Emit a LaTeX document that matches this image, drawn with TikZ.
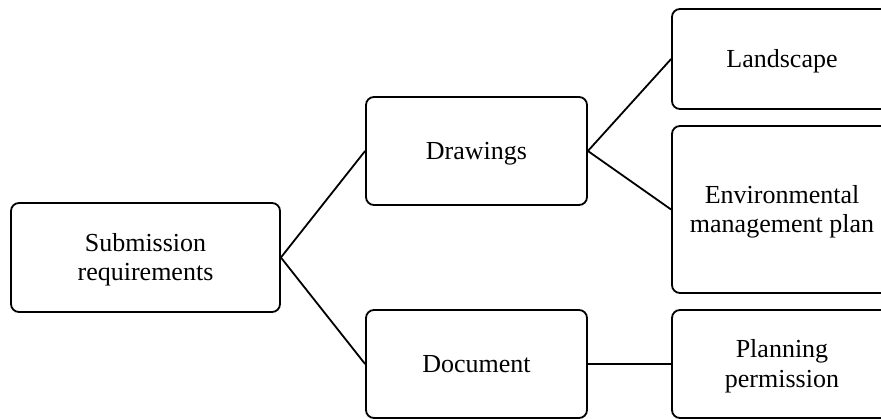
\documentclass[tikz,border=0pt]{standalone}
\usepackage{fontspec}
\setmainfont{Liberation Serif}
\newcommand\mystrut{\rule[-5.5pt]{0pt}{28.2pt}}
\begin{document}
\begin{tikzpicture}[x=1pt,y=-1pt,
  box/.style={draw=black, line width=1.8pt, rounded corners=8pt, align=center, inner sep=0pt,
    font=\fontsize{26}{28}\selectfont},
  conn/.style={draw=black, line width=1.8pt}]
\useasboundingbox (0,0) rectangle (881,419);
\clip (0,0) rectangle (881,419);
\node[box, minimum width=269pt, minimum height=109pt] (sub) at (145.5,257.5) {\mystrut Submission\\\mystrut requirements};
\node[box, minimum width=221pt, minimum height=108pt] (drw) at (476.5,151) {\mystrut Drawings};
\node[box, minimum width=221pt, minimum height=108pt] (doc) at (476.5,364) {\mystrut Document};
\node[box, minimum width=220pt, minimum height=100pt] (lan) at (782,59) {\mystrut Landscape};
\node[box, minimum width=220pt, minimum height=167pt] (env) at (782,209.5) {\mystrut Environmental\\\mystrut management plan};
\node[box, minimum width=220pt, minimum height=108pt, font=\fontsize{26}{24}\selectfont] (pla) at (782,364) {\mystrut Planning\\\mystrut permission};
\draw[conn] (sub.east) -- (drw.west);
\draw[conn] (sub.east) -- (doc.west);
\draw[conn] (drw.east) -- (lan.west);
\draw[conn] (drw.east) -- (env.west);
\draw[conn] (doc.east) -- (pla.west);
\end{tikzpicture}
\end{document}
